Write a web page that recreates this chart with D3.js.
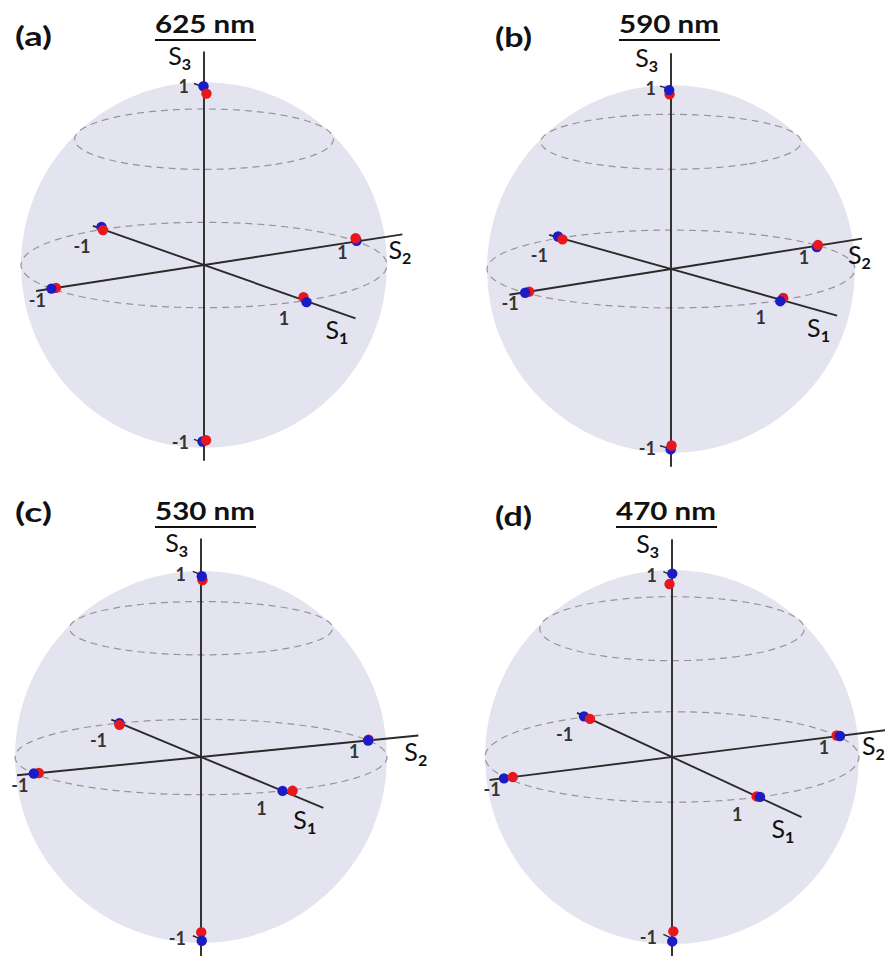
<!DOCTYPE html>
<html>
<head>
<meta charset="utf-8">
<title>Poincaré spheres</title>
<script src="https://cdn.jsdelivr.net/npm/d3@7"></script>
<style>
  body { margin: 0; background: #fff; }
  text { font-family: Lato, "Open Sans", sans-serif; fill: #111; }
</style>
</head>
<body>
<svg id="chart" width="885" height="956"></svg>
<script>
// ---- data ----
const wavelengths = ["625 nm", "590 nm", "530 nm", "470 nm"];
const panelTags = ["(a)", "(b)", "(c)", "(d)"];
// order of the six polarisation states in every row below
const states = ["+S1", "-S1", "+S2", "-S2", "+S3", "-S3"];
const axisTicks = [-1, 1];
const latitudes = [0, 45];

// [S1, S2, S3] for each state, one row per panel
const bluePoints = [
  [[1, 0.01, -0.01], [-1, -0.01, 0.015], [0, 1, 0.004], [0, -1, 0], [-0.02, 0.01, 0.999], [-0.03, 0.01, -0.999]],
  [[1, -0.01, -0.005], [-1, -0.015, 0.01], [-0.01, 1, -0.01], [0.01, -1, 0], [0.01, -0.02, 0.999], [0.01, -0.01, -1]],
  [[1, 0, 0], [-1, 0, 0], [0, 1, 0], [0, -1, 0], [0.03, -0.01, 0.999], [0.05, -0.02, -0.998]],
  [[1, 0.01, 0], [-1, -0.01, 0.004], [0.024, 1, 0.006], [-0.025, -1, -0.008], [-0.045, 0.025, 0.998], [0.07, -0.035, -0.997]]
];
const redPoints = [
  [[1, -0.01, 0.02], [-1, 0, -0.004], [-0.01, 1, 0.016], [0, -0.97, 0], [0.1, -0.05, 0.99], [-0.04, 0.04, -0.998]],
  [[1, 0.01, 0.01], [-1, 0.015, -0.01], [0, 1, 0.003], [0, -0.965, 0], [0.08, -0.07, 0.994], [-0.055, 0.045, -0.997]],
  [[1, 0.06, -0.005], [-1, 0, -0.01], [0.005, 1, 0.005], [0, -0.97, 0], [0.1, -0.04, 0.994], [-0.12, 0.06, -0.99]],
  [[1, -0.01, 0.005], [-0.95, 0, 0], [-0.014, 1, 0], [0, -0.96, 0], [0.125, -0.08, 0.99], [-0.1, 0.06, -0.99]]
];
// which marker ends up drawn on top, per state
const onTop = [
  ["b", "r", "r", "b", "r", "r"],
  ["b", "r", "r", "b", "b", "r"],
  ["r", "r", "b", "b", "b", "b"],
  ["b", "r", "b", "r", "b", "b"]
];

// ---- layout (view of each sphere) ----
const layout = [
  { cx: 204, cy: 265, r: 183, az: 56.5, el: 13.5, tx: 205, ty: 33, lx: 15, ly: 46 },
  { cx: 671, cy: 269, r: 184, az: 53,   el: 12.2, tx: 669, ty: 33, lx: 495, ly: 47 },
  { cx: 201, cy: 757, r: 186, az: 64,   el: 11.7, tx: 205, ty: 520, lx: 15, ly: 522 },
  { cx: 672, cy: 757, r: 187, az: 62.5, el: 14,   tx: 666, ty: 520, lx: 495, ly: 526 }
];

const colors = { b: "#1c1cc4", r: "#e8161d" };
const sphereFill = "#e4e4f1";
const W = 885;

const svg = d3.select("#chart");

layout.forEach(function (p, i) {
  const g = svg.append("g");
  const az = p.az * Math.PI / 180, el = p.el * Math.PI / 180;
  const x = d3.scaleLinear().domain([-1, 1]).range([p.cx - p.r, p.cx + p.r]);
  const y = d3.scaleLinear().domain([-1, 1]).range([p.cy + p.r, p.cy - p.r]);

  // orthographic view of a Stokes vector
  function proj(s) {
    const u = Math.cos(az) * s[0] + Math.sin(az) * s[1];
    const depth = Math.sin(az) * s[0] - Math.cos(az) * s[1];
    const v = Math.cos(el) * s[2] - Math.sin(el) * depth;
    return [x(u), y(v)];
  }

  // sphere body
  g.append("circle")
    .attr("cx", x(0)).attr("cy", y(0))
    .attr("r", x(1) - x(0))
    .attr("fill", sphereFill);

  // latitude circles
  const line = d3.line();
  latitudes.forEach(function (lat) {
    const la = lat * Math.PI / 180;
    const pts = d3.range(0, 361, 3).map(function (t) {
      const a = t * Math.PI / 180;
      return proj([Math.cos(la) * Math.cos(a), Math.cos(la) * Math.sin(a), Math.sin(la)]);
    });
    g.append("path")
      .attr("d", line(pts))
      .attr("fill", "none")
      .attr("stroke", "#959595")
      .attr("stroke-width", 1.2)
      .attr("stroke-dasharray", "7,5");
  });

  // axes
  const axes = [
    { from: [-1.1, 0, 0], to: [1.5, 0, 0] },
    { from: [0, -1.1, 0], to: [0, 1.3, 0] },
    { from: [0, 0, -1.1], to: [0, 0, 1.2] }
  ];
  axes.forEach(function (a) {
    const p0 = proj(a.from), p1 = proj(a.to);
    g.append("line")
      .attr("x1", p0[0]).attr("y1", p0[1])
      .attr("x2", p1[0]).attr("y2", p1[1])
      .attr("stroke", "#2a2a2a")
      .attr("stroke-width", 1.9);
  });

  // S3 ticks
  axisTicks.forEach(function (t) {
    const p0 = proj([0, 0, t]), p1 = proj([-0.1, 0, t]);
    g.append("line")
      .attr("x1", p0[0]).attr("y1", p0[1])
      .attr("x2", p1[0]).attr("y2", p1[1])
      .attr("stroke", "#2a2a2a")
      .attr("stroke-width", 1.4);
  });

  // tick labels
  const ticks = g.append("g")
    .style("font-size", "18px")
    .style("font-weight", 700);
  axisTicks.forEach(function (t) {
    const a1 = proj([t, 0, 0]);
    ticks.append("text").attr("x", a1[0] - 21).attr("y", a1[1] + 24)
      .attr("text-anchor", "middle").text(t);
    const a2 = proj([0, t, 0]);
    ticks.append("text").attr("x", a2[0] - 14).attr("y", a2[1] + 18)
      .attr("text-anchor", "middle").text(t);
    const a3 = proj([0, 0, t]);
    ticks.append("text").attr("x", a3[0] - 15).attr("y", a3[1] + 6)
      .attr("text-anchor", "end").text(t);
  });
  ticks.selectAll("text").style("fill", "#333");

  // axis names
  function axisName(pos, sub, anchor) {
    const t = g.append("text")
      .attr("x", pos[0]).attr("y", pos[1])
      .attr("text-anchor", anchor)
      .style("font-size", "25px");
    t.append("tspan").text("S");
    t.append("tspan").attr("dy", 5).style("font-size", "16px").style("font-weight", 700).text(sub);
  }
  const e1 = proj([1.5, 0, 0]), e2 = proj([0, 1.3, 0]), e3 = proj([0, 0, 1.2]);
  axisName([e1[0] - 30, e1[1] + 21], "1", "start");
  axisName([Math.min(e2[0] - 14, W - 23), e2[1] + 25], "2", "start");
  axisName([e3[0] - 13, e3[1] + 14], "3", "end");

  // measured states
  states.forEach(function (st, k) {
    const order = onTop[i][k] === "b" ? ["r", "b"] : ["b", "r"];
    order.forEach(function (c) {
      const s = (c === "b" ? bluePoints : redPoints)[i][k];
      const q = proj(s);
      g.append("circle")
        .attr("cx", q[0]).attr("cy", q[1])
        .attr("r", 5.2)
        .attr("fill", colors[c]);
    });
  });

  // panel tag and title
  g.append("text")
    .attr("x", p.lx).attr("y", p.ly)
    .attr("textLength", 37).attr("lengthAdjust", "spacingAndGlyphs")
    .style("font-size", "27px").style("font-weight", 700)
    .text(panelTags[i]);
  g.append("text")
    .attr("x", p.tx - 50).attr("y", p.ty)
    .attr("textLength", 100).attr("lengthAdjust", "spacingAndGlyphs")
    .style("font-size", "25px").style("font-weight", 700)
    .text(wavelengths[i]);
  g.append("line")
    .attr("x1", p.tx - 50).attr("x2", p.tx + 51)
    .attr("y1", p.ty + 7).attr("y2", p.ty + 7)
    .attr("stroke", "#111").attr("stroke-width", 2);
});
</script>
</body>
</html>
